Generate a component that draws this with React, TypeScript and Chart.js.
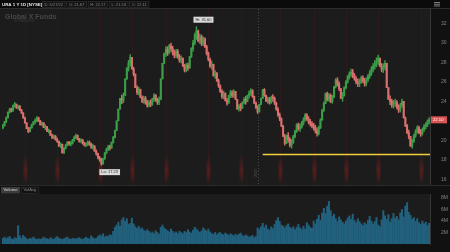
import React, { useEffect, useRef } from "react";
import { Chart, registerables } from "chart.js";
Chart.register(...registerables);

const FONT = "'Liberation Sans', Arial, sans-serif";

// ---------- data ----------
const monthStarts = [0, 22, 43, 65, 86, 107, 128, 150, 170, 189, 212, 232];
const monthLabels = ["Jun", "Jul", "Aug", "Sep", "Oct", "Nov", "Dec", "22", "Feb", "Mar", "Apr", "May"];
const expiryIdx = [13, 32, 57, 76, 96, 121, 140, 163, 183, 202, 221, 246];
const yearStartIdx = 150;

const firstOpen = 21.3;
const closes = [
  21.5, 21.9, 22.3, 22.9, 23.2, 23.0, 23.6, 23.7, 23.3, 23.5,
  23.1, 22.8, 22.3, 21.8, 21.2, 20.9, 21.3, 21.6, 21.9, 22.0,
  22.3, 22.0, 21.6, 21.8, 21.3, 21.4, 20.9, 21.0, 20.5, 20.3,
  20.4, 20.1, 19.9, 19.4, 19.6, 18.7, 19.2, 19.5, 19.8, 19.6,
  19.7, 20.0, 20.3, 20.5, 20.1, 19.9, 20.0, 19.7, 19.5, 19.6,
  19.8, 19.6, 19.3, 19.4, 18.9, 18.6, 18.2, 18.0, 17.6, 18.1,
  18.7, 19.1, 19.3, 19.2, 19.8, 20.3, 21.0, 22.0, 23.2, 24.3,
  24.1, 24.6, 26.3, 27.4, 27.9, 28.5, 27.3, 26.8, 25.4, 24.9,
  25.2, 24.4, 24.0, 24.3, 23.9, 23.6, 23.9, 23.7, 24.2, 24.6,
  24.1, 23.9, 24.2, 26.3, 27.9, 28.9, 29.3, 29.0, 29.7, 29.4,
  29.0, 28.7, 29.1, 28.6, 28.2, 28.4, 27.6, 27.2, 27.7, 27.4,
  28.6, 29.4, 30.0, 30.8, 31.2, 30.2, 30.6, 29.9, 30.4, 29.6,
  28.9, 28.3, 27.6, 27.8, 26.6, 26.9, 26.1, 25.6, 25.0, 24.5,
  24.8, 24.1, 23.8, 24.6, 24.9, 24.6, 25.0, 24.2, 23.2, 23.5,
  23.3, 23.9, 24.2, 24.0, 24.6, 24.8, 25.1, 24.5, 23.8, 23.4,
  22.9, 23.7, 24.3, 25.2, 24.6, 24.0, 24.2, 23.9, 24.4, 24.3,
  23.8, 23.2, 22.6, 22.2, 21.5, 20.4, 19.7, 20.5, 20.1, 19.5,
  19.8, 20.4, 20.9, 21.6, 21.2, 21.4, 21.8, 22.1, 22.6, 22.2,
  21.9, 21.7, 21.5, 21.3, 21.0, 20.7, 21.3, 22.1, 23.1, 23.8,
  24.8, 24.2, 24.6, 24.0, 24.4, 25.5, 26.2, 25.8, 25.3, 24.3,
  24.6, 25.4, 26.0, 26.5, 26.8, 27.0, 26.7, 26.3, 26.0, 25.8,
  26.0, 26.4, 26.1, 25.8, 26.2, 26.6, 26.9, 27.3, 27.6, 27.9,
  28.1, 28.4, 27.6, 27.3, 27.5, 27.9, 25.4, 24.2, 24.0, 23.6,
  23.8, 23.9, 23.4, 23.1, 23.6, 24.0, 22.3, 21.5, 20.8, 20.4,
  19.4, 19.9, 20.5, 20.9, 21.3, 20.8, 20.7, 21.1, 21.4, 21.6, 21.9, 22.1,
];

// daily high-low range
const dayRanges = [
  0.45, 0.5, 0.6, 0.55, 0.5, 0.4, 0.55, 0.5, 0.45, 0.4,
  0.5, 0.45, 0.6, 0.65, 0.6, 0.55, 0.5, 0.45, 0.4, 0.5,
  0.55, 0.45, 0.5, 0.4, 0.45, 0.5, 0.55, 0.4, 0.5, 0.45,
  0.4, 0.5, 0.45, 0.55, 0.5, 0.7, 0.6, 0.5, 0.45, 0.4,
  0.45, 0.5, 0.55, 0.45, 0.5, 0.4, 0.45, 0.5, 0.4, 0.45,
  0.5, 0.45, 0.55, 0.5, 0.6, 0.55, 0.6, 0.5, 0.7, 0.65,
  0.7, 0.6, 0.55, 0.5, 0.65, 0.7, 0.8, 0.9, 1.0, 1.1,
  0.9, 1.0, 1.3, 1.2, 1.1, 1.2, 1.0, 0.9, 1.1, 0.9,
  0.8, 0.9, 0.7, 0.75, 0.8, 0.7, 0.65, 0.7, 0.75, 0.8,
  0.7, 0.65, 0.8, 1.2, 1.3, 1.1, 1.0, 0.9, 1.0, 0.85,
  0.9, 0.8, 0.85, 0.9, 0.8, 0.75, 0.9, 0.8, 0.85, 0.75,
  0.9, 1.0, 1.1, 1.2, 1.3, 1.2, 1.0, 1.1, 0.9, 1.0,
  1.0, 0.9, 0.95, 0.85, 1.0, 0.8, 0.9, 0.85, 0.8, 0.9,
  0.8, 0.85, 0.7, 0.8, 0.75, 0.7, 0.8, 0.85, 0.9, 0.7,
  0.75, 0.7, 0.65, 0.8, 0.7, 0.75, 0.7, 0.8, 0.75, 0.7,
  0.8, 0.75, 0.7, 0.9, 0.8, 0.7, 0.65, 0.7, 0.75, 0.7,
  0.8, 0.85, 0.9, 0.8, 0.9, 1.0, 1.1, 0.9, 1.0, 0.95,
  0.9, 0.85, 0.8, 0.9, 0.75, 0.8, 0.7, 0.75, 0.8, 0.7,
  0.75, 0.7, 0.65, 0.7, 0.8, 0.85, 0.9, 1.0, 1.1, 1.0,
  1.1, 0.9, 0.85, 0.9, 0.8, 1.0, 0.95, 0.85, 0.9, 1.0,
  0.9, 0.95, 0.85, 0.8, 0.75, 0.8, 0.85, 0.7, 0.75, 0.8,
  0.8, 0.75, 0.7, 0.8, 0.85, 0.75, 0.8, 0.9, 0.85, 0.9,
  0.95, 1.0, 0.9, 0.85, 0.9, 0.95, 1.2, 1.0, 0.9, 0.85,
  0.8, 0.75, 0.85, 0.8, 0.9, 0.85, 1.1, 1.0, 0.95, 0.9,
  1.0, 0.9, 0.85, 0.8, 0.75, 0.8, 0.7, 0.75, 0.7, 0.65, 0.7, 0.65,
];

// volume, millions of shares
const volumes = [
  1.0, 1.2, 0.9, 1.1, 1.3, 0.9, 0.8, 1.1, 1.0, 3.2, 1.4, 1.0, 1.5, 1.2, 0.9, 0.8, 1.0, 0.9, 1.2, 0.9, 0.8, 0.9,
  0.8, 0.9, 1.2, 1.0, 0.9, 0.8, 1.1, 0.9, 0.8, 1.1, 1.3, 1.0, 0.9, 0.8, 0.9, 1.1, 1.2, 0.9, 0.8, 1.0, 0.9,
  0.9, 1.0, 1.1, 0.9, 0.8, 1.0, 1.2, 1.0, 0.9, 1.4, 1.1, 0.9, 1.0, 1.3, 1.6, 1.4, 1.8, 1.2, 1.4, 1.3, 1.6, 1.5,
  2.2, 2.9, 3.3, 3.8, 3.1, 4.2, 4.6, 3.9, 4.4, 3.4, 3.6, 4.5, 3.5, 3.0, 2.7, 3.1, 2.6, 2.8, 2.4, 2.2, 2.5,
  2.2, 1.9, 2.1, 1.8, 2.3, 2.0, 1.7, 2.9, 3.3, 2.8, 2.5, 2.3, 2.1, 2.6, 2.2, 1.9, 2.1, 1.8, 2.2, 2.0, 1.8,
  2.2, 2.0, 2.5, 2.1, 1.9, 2.4, 2.9, 2.6, 2.3, 2.0, 2.3, 2.8, 2.5, 2.2, 2.6, 2.1, 1.8, 1.7, 2.0, 1.6, 1.9,
  2.0, 1.7, 1.6, 1.9, 1.7, 1.5, 1.8, 1.6, 1.4, 1.7, 1.5, 1.7, 1.9, 1.5, 1.3, 1.6, 1.4, 1.2, 1.3, 1.5, 1.1, 1.3,
  2.8, 2.5, 3.0, 3.6, 2.9, 3.3, 2.6, 2.4, 3.0, 2.7, 3.4, 4.1, 4.6, 3.9, 3.3, 3.1, 2.8, 3.2, 3.5, 2.9,
  2.7, 3.0, 2.5, 2.9, 3.4, 2.8, 2.5, 3.1, 2.6, 3.7, 3.3, 2.9, 2.7, 4.0, 3.5, 4.3, 5.0, 4.1, 5.4,
  6.2, 5.3, 6.6, 7.4, 5.8, 4.8, 5.2, 4.4, 3.9, 4.7, 4.2, 3.8, 3.5, 4.0, 4.5, 4.9, 4.3, 5.2, 4.1, 3.7, 4.4, 3.9, 3.5,
  3.2, 3.7, 3.4, 4.1, 4.8, 4.0, 3.5, 3.9, 4.6, 3.3, 3.0, 4.2, 5.8, 4.9, 4.3, 5.1, 3.8, 4.4, 5.3, 4.5,
  4.8, 4.2, 5.4, 6.0, 4.7, 6.6, 7.2, 5.5, 5.0, 4.3, 4.6, 3.9, 4.4, 3.7, 3.4, 4.0, 3.5, 3.8, 3.2, 3.6,
];

const priceTicks = [16, 18, 20, 22, 24, 26, 28, 30, 32];
const volumeTicks = [2, 4, 6, 8];
const volumeTickLabels = ["2M", "4M", "6M", "8M"];
const supportLevel = 18.57;
const supportStartIdx = 153;
const hiText = "Hi: 31.60";
const loText = "Lo: 17.23";
const headerTitle = "URA 1 Y 1D [NYSE]";
const headerFields = ["D: 5/27/22", "O: 21.67", "H: 22.17", "L: 21.53", "C: 22.11"];
const watermark = "Global X Funds";
const watermarkSub = "BY MIRAE ASSET";
const volumeTitle = "Volume";
const volumeStudy = "VolAvg";
const yearText = "2022";

// ---------- styles ----------
const UP = "#3a9e46";
const DOWN = "#d9706d";
const PLOT_BG = "#1c1c1c";
const AXIS_BG = "#111111";
const VOL_COLOR = "#22617e";

const opens = closes.map((c, i) => (i === 0 ? firstOpen : closes[i - 1]));
const highs = closes.map((c, i) => Math.max(Math.max(c, opens[i]), (c + opens[i]) / 2 + dayRanges[i] / 2));
const lows = closes.map((c, i) => Math.min(Math.min(c, opens[i]), (c + opens[i]) / 2 - dayRanges[i] / 2));
const labels = closes.map((_, i) => String(i));
const candleColors = closes.map((c, i) => (c >= opens[i] ? UP : DOWN));

function fillBackgrounds(chart: any) {
  const { ctx, chartArea } = chart;
  ctx.save();
  ctx.fillStyle = AXIS_BG;
  ctx.fillRect(0, 0, chart.width, chart.height);
  ctx.fillStyle = PLOT_BG;
  ctx.fillRect(0, chartArea.top, chartArea.right, chartArea.bottom - chartArea.top);
  ctx.restore();
}

const noPad = (s: any) => {
  s.paddingTop = 0;
  s.paddingBottom = 0;
  s.paddingLeft = 0;
  s.paddingRight = 0;
};

const mainDecor = {
  id: "mainDecor",
  beforeDraw(chart: any) {
    fillBackgrounds(chart);
    const { ctx } = chart;
    ctx.save();
    ctx.fillStyle = "#0b0b0b";
    ctx.fillRect(0, 0, chart.width, 9);
    ctx.fillStyle = "#2c2c2c";
    ctx.fillRect(0, 8, chart.width, 1);
    ctx.textBaseline = "middle";
    ctx.font = `bold 4.4px ${FONT}`;
    ctx.fillStyle = "#e6e6e6";
    ctx.fillText(headerTitle, 2, 4.5);
    let hx = 42;
    ctx.font = `4px ${FONT}`;
    headerFields.forEach((t) => {
      const w = ctx.measureText(t).width + 5;
      ctx.fillStyle = "#141414";
      ctx.fillRect(hx, 1, w, 6.5);
      ctx.strokeStyle = "#333";
      ctx.lineWidth = 0.6;
      ctx.strokeRect(hx + 0.3, 1.3, w - 0.6, 6);
      ctx.fillStyle = "#888";
      ctx.fillText(t, hx + 2.5, 4.5);
      hx += w + 1;
    });
    ctx.fillStyle = "#9a9a9a";
    for (let k = 0; k < 3; k++) ctx.fillRect(434, 2 + k * 1.8, 6, 0.8);
    ctx.restore();
  },
  beforeDatasetsDraw(chart: any) {
    const { ctx, chartArea, scales } = chart;
    const { top, bottom } = chartArea;
    const x = scales.x;
    ctx.save();
    ctx.textBaseline = "middle";
    ctx.font = `bold 7px ${FONT}`;
    ctx.fillStyle = "#474747";
    ctx.fillText(watermark, 5, 17);
    ctx.font = `2.6px ${FONT}`;
    ctx.fillStyle = "#383838";
    ctx.fillText(watermarkSub, 14, 21.5);
    expiryIdx.forEach((i) => {
      const px = Math.round(x.getPixelForValue(i)) + 0.5;
      ctx.strokeStyle = "rgba(110,28,28,0.22)";
      ctx.lineWidth = 1;
      ctx.beginPath();
      ctx.moveTo(px, top);
      ctx.lineTo(px, bottom);
      ctx.stroke();
      const g = ctx.createLinearGradient(0, bottom - 30, 0, bottom - 4);
      g.addColorStop(0, "rgba(140,30,30,0)");
      g.addColorStop(0.6, "rgba(140,30,30,0.45)");
      g.addColorStop(1, "rgba(140,30,30,0.15)");
      ctx.fillStyle = g;
      ctx.fillRect(px - 2, bottom - 30, 4, 26);
    });
    const yx = Math.round(x.getPixelForValue(yearStartIdx)) + 0.5;
    ctx.strokeStyle = "#4a4a4a";
    ctx.setLineDash([1, 2]);
    ctx.beginPath();
    ctx.moveTo(yx, top);
    ctx.lineTo(yx, bottom);
    ctx.stroke();
    ctx.setLineDash([]);
    ctx.translate(yx - 2.5, bottom - 12);
    ctx.rotate(-Math.PI / 2);
    ctx.font = `3.5px ${FONT}`;
    ctx.fillStyle = "#5c5c5c";
    ctx.textAlign = "center";
    ctx.fillText(yearText, 0, 0);
    ctx.restore();
  },
  afterDatasetsDraw(chart: any) {
    const { ctx, chartArea, scales } = chart;
    const x = scales.x;
    const y = scales.y;
    ctx.save();
    const sy = Math.round(y.getPixelForValue(supportLevel)) + 0.5;
    ctx.strokeStyle = "#f0d03a";
    ctx.lineWidth = 1.5;
    ctx.beginPath();
    ctx.moveTo(x.getPixelForValue(supportStartIdx), sy);
    ctx.lineTo(chartArea.right, sy);
    ctx.stroke();
    let hiIdx = 0;
    let loIdx = 0;
    highs.forEach((h, i) => {
      if (h > highs[hiIdx]) hiIdx = i;
      if (lows[i] < lows[loIdx]) loIdx = i;
    });
    ctx.font = `4px ${FONT}`;
    ctx.textBaseline = "middle";
    const box = (t: string, bx: number, by: number) => {
      const w = ctx.measureText(t).width + 4;
      ctx.fillStyle = "#dadada";
      ctx.fillRect(bx, by, w, 6);
      ctx.fillStyle = "#2a2a2a";
      ctx.fillText(t, bx + 2, by + 3.2);
    };
    box(hiText, x.getPixelForValue(hiIdx) - 3, y.getPixelForValue(highs[hiIdx]) - 10);
    box(loText, x.getPixelForValue(loIdx) - 2, y.getPixelForValue(lows[loIdx]) + 4);
    const last = closes[closes.length - 1];
    const py = y.getPixelForValue(last);
    ctx.fillStyle = "#d95555";
    ctx.fillRect(chartArea.right + 1, py - 3.5, 16, 7);
    ctx.fillStyle = "#ffffff";
    ctx.font = `4.2px ${FONT}`;
    ctx.fillText(last.toFixed(2), chartArea.right + 3, py);
    ctx.restore();
  },
};

const volDecor = {
  id: "volDecor",
  beforeDraw(chart: any) {
    fillBackgrounds(chart);
    const { ctx } = chart;
    ctx.save();
    ctx.fillStyle = "#2a2a2a";
    ctx.fillRect(0, 0, chart.width, 1);
    ctx.font = `4.2px ${FONT}`;
    ctx.textBaseline = "middle";
    const w1 = ctx.measureText(volumeTitle).width + 5;
    ctx.fillStyle = "#3c3c3c";
    ctx.fillRect(1, 2, w1, 6.5);
    ctx.fillStyle = "#d8d8d8";
    ctx.fillText(volumeTitle, 3.5, 5.3);
    const w2 = ctx.measureText(volumeStudy).width + 5;
    ctx.fillStyle = "#111";
    ctx.fillRect(2 + w1, 2, w2, 6.5);
    ctx.strokeStyle = "#333";
    ctx.lineWidth = 0.6;
    ctx.strokeRect(2.3 + w1, 2.3, w2 - 0.6, 6);
    ctx.fillStyle = "#8a8a8a";
    ctx.fillText(volumeStudy, 4.5 + w1, 5.3);
    ctx.restore();
  },
};

export default function App() {
  const mainRef = useRef<HTMLCanvasElement>(null);
  const volRef = useRef<HTMLCanvasElement>(null);

  useEffect(() => {
    const main = new Chart(mainRef.current as HTMLCanvasElement, {
      type: "bar",
      data: {
        labels,
        datasets: [
          {
            data: closes.map((c, i) => [opens[i], c]) as any,
            backgroundColor: candleColors,
            barThickness: 1.4,
            minBarLength: 1.5,
            borderWidth: 0,
            grouped: false,
            order: 1,
          },
          {
            data: closes.map((_, i) => [lows[i], highs[i]]) as any,
            backgroundColor: candleColors,
            barThickness: 0.8,
            borderWidth: 0,
            grouped: false,
            order: 2,
          },
        ],
      },
      options: {
        responsive: false,
        animation: false,
        layout: { padding: { left: 2, top: 9, right: 0, bottom: 0 } },
        plugins: { legend: { display: false }, tooltip: { enabled: false } },
        scales: {
          x: { display: false, offset: true },
          y: {
            position: "right",
            min: 15.415,
            max: 33.467,
            grid: { display: false },
            border: { display: true, color: "#363636" },
            afterBuildTicks: (s: any) => {
              s.ticks = priceTicks.map((v) => ({ value: v }));
            },
            afterFit: (s: any) => {
              s.width = 20;
              noPad(s);
            },
            ticks: {
              color: "#858585",
              font: { size: 5, family: FONT },
              padding: 3,
              callback: (v: any) => String(v),
            },
          },
        },
      },
      plugins: [mainDecor],
    });

    const vol = new Chart(volRef.current as HTMLCanvasElement, {
      type: "bar",
      data: {
        labels,
        datasets: [
          {
            data: volumes,
            backgroundColor: VOL_COLOR,
            barThickness: 1.4,
            borderWidth: 0,
          },
        ],
      },
      options: {
        responsive: false,
        animation: false,
        layout: { padding: { left: 2, top: 9, right: 0, bottom: 0 } },
        plugins: { legend: { display: false }, tooltip: { enabled: false } },
        scales: {
          x: {
            offset: true,
            grid: { display: false },
            border: { display: false },
            afterFit: (s: any) => {
              s.height = 8;
              noPad(s);
            },
            ticks: {
              autoSkip: false,
              maxRotation: 0,
              minRotation: 0,
              align: "start",
              padding: 1,
              color: "#858585",
              font: { size: 5, family: FONT },
              callback: (_v: any, i: number) => {
                const k = monthStarts.indexOf(i);
                return k >= 0 ? monthLabels[k] : "";
              },
            },
          },
          y: {
            position: "right",
            min: 0,
            max: 8.7,
            grid: { display: false },
            border: { display: true, color: "#363636" },
            afterBuildTicks: (s: any) => {
              s.ticks = volumeTicks.map((v) => ({ value: v }));
            },
            afterFit: (s: any) => {
              s.width = 20;
              noPad(s);
            },
            ticks: {
              color: "#858585",
              font: { size: 5, family: FONT },
              padding: 3,
              callback: (v: any) => volumeTickLabels[volumeTicks.indexOf(v)] ?? "",
            },
          },
        },
      },
      plugins: [volDecor],
    });

    return () => {
      main.destroy();
      vol.destroy();
    };
  }, []);

  return (
    <div style={{ position: "absolute", left: 0, top: 0, width: 450, height: 252, background: AXIS_BG, overflow: "hidden" }}>
      <canvas ref={mainRef} width={450} height={185} style={{ position: "absolute", left: 0, top: 0, display: "block" }} />
      <canvas ref={volRef} width={450} height={67} style={{ position: "absolute", left: 0, top: 185, display: "block" }} />
    </div>
  );
}
